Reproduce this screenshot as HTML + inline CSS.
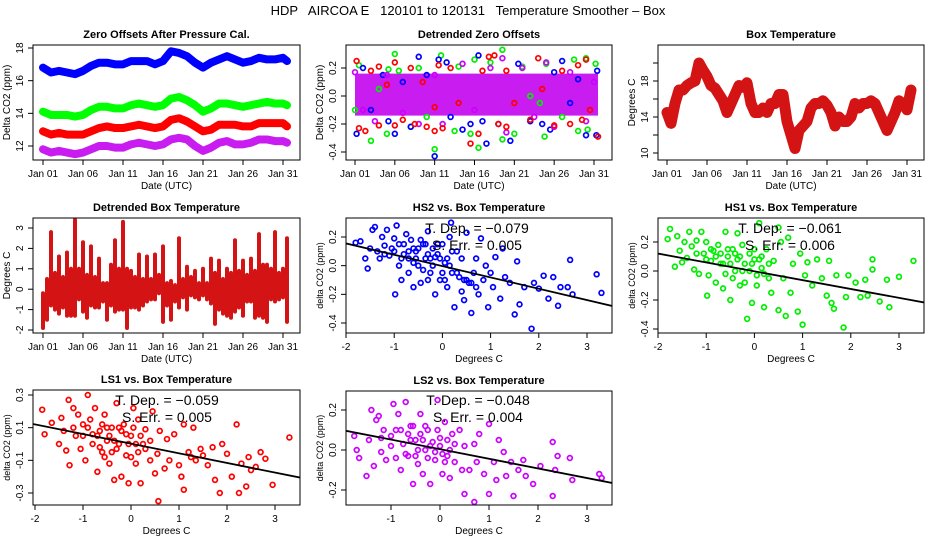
<!DOCTYPE html>
<html><head><meta charset="utf-8">
<style>
html,body{margin:0;padding:0;background:#fff;}
svg{display:block;font-family:"Liberation Sans",Arial,sans-serif;}
</style></head>
<body>
<svg id="chart" width="936" height="540" viewBox="0 0 936 540" xmlns="http://www.w3.org/2000/svg">
<text x="468" y="15" font-size="13" text-anchor="middle" xml:space="preserve">HDP   AIRCOA E   120101 to 120131   Temperature Smoother – Box</text>
</svg>
<script>
// ---- colours ----
const RED_CHK = "#d41414";
const PURPLE_CHK = "#c81cf0";

// ---- data ----
const days = [1,2,3,4,5,6,7,8,9,10,11,12,13,14,15,16,17,18,19,20,21,22,23,24,25,26,27,28,29,30,31,31.5];
const zeroBlue = [16.8,16.5,16.6,16.5,16.4,16.6,16.9,17.1,17.1,17.0,17.0,17.2,17.2,17.2,17.0,17.2,17.8,17.7,17.5,17.1,16.8,17.1,17.3,17.5,17.3,17.1,17.2,17.4,17.3,17.3,17.4,17.2];
const zeroGreen = [14.1,13.9,13.9,13.9,13.8,13.9,14.2,14.4,14.4,14.3,14.3,14.5,14.6,14.5,14.4,14.5,14.9,15.0,14.8,14.5,14.1,14.3,14.6,14.6,14.5,14.4,14.5,14.6,14.7,14.6,14.6,14.5];
const zeroRed = [12.9,12.7,12.8,12.7,12.7,12.7,12.9,13.1,13.2,13.1,13.1,13.2,13.3,13.2,13.1,13.2,13.6,13.7,13.5,13.2,12.9,13.0,13.3,13.3,13.3,13.2,13.2,13.4,13.4,13.4,13.4,13.2];
const zeroPurple = [11.8,11.6,11.7,11.6,11.5,11.6,11.8,12.0,12.0,11.9,11.9,12.1,12.2,12.1,12.0,12.1,12.4,12.5,12.4,12.0,11.7,11.9,12.2,12.3,12.1,12.1,12.2,12.4,12.4,12.3,12.3,12.2];

const detBlue = [[1.2,-0.27],[2,0.2],[3,-0.1],[4.5,0.15],[5.2,-0.18],[6,-0.27],[7,0.1],[8,-0.22],[9,0.28],[10,0.15],[11,-0.43],[11.5,0.26],[12.5,0.24],[13,-0.15],[14.5,-0.24],[15.5,-0.2],[16.5,0.29],[17,-0.18],[17.5,-0.34],[19,-0.2],[20.5,-0.32],[21.5,0.23],[23,-0.18],[24.5,-0.2],[25.5,-0.24],[26,0.17],[27,0.25],[28,-0.05],[29,0.12],[30,-0.28],[31.3,-0.28],[31.4,0.18]];
const detGreen = [[1,-0.1],[1.5,0.22],[3,-0.32],[4,0.05],[5,-0.27],[5.2,0.19],[6,0.3],[6.5,0.18],[8,-0.22],[9,0.2],[10,-0.15],[11,-0.38],[11.8,0.29],[13.5,-0.25],[14,0.21],[15.5,-0.27],[16,0.26],[16.5,-0.37],[18,0.24],[19.5,0.33],[19.5,-0.31],[21,-0.27],[22,0.21],[23,0.0],[24.2,-0.05],[24.8,-0.29],[25,0.23],[27,-0.15],[28.5,0.26],[29,-0.25],[30,0.27],[30.2,-0.24],[31.2,0.23]];
const detRed = [[1.2,0.25],[1.5,-0.23],[2.3,-0.25],[3,0.18],[4,-0.21],[4,0.21],[5,0.08],[6,0.24],[6,-0.21],[7,-0.17],[8,0.2],[8.5,-0.2],[9.5,0.1],[10,-0.22],[11,-0.25],[11,-0.08],[11.5,0.22],[12,-0.23],[13,0.2],[14,-0.05],[15.5,-0.34],[16.5,-0.27],[17,0.18],[17.8,0.28],[18.5,0.29],[19,-0.2],[20,0.18],[20,-0.22],[21,-0.05],[23,-0.17],[24,0.27],[24.5,0.05],[26,-0.21],[27,0.18],[28,-0.2],[29,0.22],[29.5,-0.17],[30,0.26],[30.5,-0.1],[31.5,-0.29]];
const detPurple = [[1,0.17],[2,-0.1],[3.5,-0.18],[5,0.15],[7,-0.12],[9,-0.2],[11,0.15],[12,-0.2],[14.5,0.23],[16,-0.1],[18,0.2],[19.5,0.27],[20,-0.26],[22,0.2],[23.5,-0.15],[25,0.24],[26,-0.22],[28,0.17],[30,-0.18],[31,0.1]];
const detBandLo = -0.14, detBandHi = 0.16;

const boxDays = [1,1.5,2,2.5,3,3.5,4,4.5,5,5.5,6,6.5,7,7.5,8,8.5,9,9.5,10,10.5,11,11.5,12,12.5,13,13.5,14,14.5,15,15.5,16,16.5,17,17.5,18,18.5,19,19.5,20,20.5,21,21.5,22,22.5,23,23.5,24,24.5,25,25.5,26,26.5,27,27.5,28,28.5,29,29.5,30,30.5,31,31.5];
const boxTemp = [14.5,13.3,15.5,17.0,17.0,17.5,17.8,18.0,20.0,19.2,18.5,17.5,17.2,16.5,15.8,14.5,15.5,16.5,17.5,17.3,17.8,15.5,14.5,14.5,15.0,14.5,15.5,15.5,16.5,16.5,13.5,12.0,10.5,12.5,13.0,13.5,15.0,15.5,15.5,15.8,15.3,14.5,13.0,14.0,13.5,13.5,14.0,15.5,15.0,15.5,15.5,15.8,15.5,14.5,13.5,12.5,13.5,14.5,15.8,15.5,14.8,17.0];

const detBoxLo = [-1.9,-1.5,-0.8,-1.0,-1.2,-0.9,-1.3,-1.3,-1.3,-0.5,-1.1,-1.4,-0.8,-0.9,-0.9,-0.6,-1.5,-0.8,-1.1,-1.0,-1.0,-1.9,-0.9,-0.9,-1.0,-0.8,-0.6,-0.5,-0.5,-0.2,-1.6,-0.8,-1.5,-0.6,-0.9,-0.4,-1.0,-0.3,-0.4,-0.5,-0.3,-0.5,-0.7,-1.7,-1.0,-1.2,-1.3,-1.4,-1.1,-0.9,-1.3,-0.6,-0.6,-1.4,-1.3,-1.4,-1.6,-0.5,-0.6,-0.5,-0.4,-1.6];
const detBoxHi = [-0.2,0.5,2.8,0.8,1.6,0.6,1.8,1.0,3.4,1.0,2.3,0.7,2.1,0.6,1.5,0.3,0.3,1.2,2.4,1.0,3.3,1.0,0.9,0.6,1.7,0.5,1.6,0.5,1.7,0.7,2.1,0.3,0.4,0.2,2.5,0.5,1.1,0.6,0.9,0.3,1.0,0.3,1.5,0.8,1.4,0.5,1.0,0.8,2.4,0.9,1.4,0.7,1.5,0.9,2.7,1.2,1.2,1.0,2.8,0.8,1.0,2.5];

const hs2Pts = [[-1.8,0.16],[-1.7,0.17],[-1.6,0.05],[-1.55,-0.02],[-1.5,0.12],[-1.45,0.25],[-1.4,0.27],[-1.35,0.1],[-1.3,0.05],[-1.25,0.2],[-1.2,0.14],[-1.15,0.25],[-1.1,0.07],[-1.05,0.12],[-1.0,0.19],[-0.98,-0.2],[-0.95,0.28],[-0.9,0.0],[-0.85,-0.1],[-0.8,0.15],[-0.75,0.22],[-0.7,0.05],[-0.65,0.18],[-0.6,-0.15],[-0.55,0.1],[-0.5,0.0],[-0.45,-0.12],[-0.4,0.15],[-0.35,0.05],[-0.3,0.24],[-0.25,-0.05],[-0.2,0.12],[-0.15,-0.2],[-0.1,0.08],[-0.05,-0.1],[0.0,0.15],[0.05,0.02],[0.1,-0.15],[0.15,0.2],[0.18,0.3],[0.2,-0.05],[0.25,-0.29],[0.3,0.1],[0.35,-0.08],[0.4,0.05],[0.45,-0.24],[0.5,0.23],[0.55,-0.12],[0.6,-0.33],[0.65,-0.05],[0.7,0.05],[0.75,-0.2],[0.8,0.19],[0.85,-0.1],[0.9,0.0],[0.95,-0.29],[1.0,-0.05],[1.05,-0.15],[1.1,0.06],[1.2,-0.23],[1.25,0.12],[1.3,-0.08],[1.4,-0.12],[1.5,-0.34],[1.55,0.03],[1.6,-0.27],[1.7,-0.15],[1.85,-0.44],[1.9,-0.12],[2.0,-0.16],[2.1,-0.07],[2.2,-0.23],[2.3,-0.08],[2.4,-0.28],[2.45,-0.15],[2.6,-0.15],[2.65,0.04],[2.7,-0.2],[3.2,-0.06],[3.3,-0.19],[-0.7,0.1],[-0.6,0.02],[-0.5,0.12],[-0.4,-0.03],[-0.3,0.08],[-0.2,0.0],[-0.1,0.15],[0.0,-0.05],[-0.6,0.12],[-0.3,-0.1],[-0.8,0.08],[0.1,0.05],[-0.45,0.18],[-0.15,0.06],[0.2,0.1],[0.6,-0.12],[0.5,-0.1],[0.7,-0.15],[0.4,-0.18],[-1.0,0.1],[-0.9,0.15],[-0.7,-0.05],[-0.55,0.05],[-0.35,0.15],[-0.25,0.05],[-0.05,0.05],[0.05,-0.1],[0.15,0.0],[0.3,-0.05],[0.45,-0.1],[-1.2,0.08],[-0.85,0.05]];
const hs1Pts = [[-1.8,0.22],[-1.75,0.29],[-1.65,0.03],[-1.6,0.24],[-1.55,0.14],[-1.5,0.06],[-1.45,0.2],[-1.4,0.09],[-1.35,0.27],[-1.3,0.17],[-1.25,0.01],[-1.2,0.21],[-1.15,-0.02],[-1.1,0.27],[-1.05,0.12],[-1.0,0.2],[-0.98,-0.17],[-0.95,-0.03],[-0.9,0.07],[-0.85,0.14],[-0.8,-0.08],[-0.75,0.18],[-0.7,0.05],[-0.65,-0.12],[-0.6,0.27],[-0.55,0.1],[-0.5,-0.2],[-0.45,0.15],[-0.4,0.0],[-0.35,0.26],[-0.3,-0.1],[-0.25,0.18],[-0.2,0.05],[-0.15,-0.33],[-0.1,0.12],[-0.05,-0.22],[0.0,0.08],[0.05,-0.1],[0.1,0.33],[0.15,0.02],[0.2,-0.25],[0.25,0.15],[0.3,-0.05],[0.35,-0.15],[0.4,0.07],[0.5,0.3],[0.5,-0.27],[0.55,0.2],[0.6,-0.05],[0.65,-0.31],[0.7,0.23],[0.75,-0.15],[0.8,0.05],[0.9,-0.28],[0.95,0.12],[1.0,-0.37],[1.05,-0.03],[1.1,0.06],[1.2,-0.1],[1.3,0.08],[1.4,-0.05],[1.5,-0.17],[1.55,0.07],[1.6,-0.22],[1.65,-0.26],[1.7,-0.03],[1.85,-0.39],[1.9,-0.18],[1.95,-0.03],[2.1,-0.08],[2.2,-0.18],[2.3,-0.06],[2.35,-0.17],[2.45,0.01],[2.45,0.08],[2.6,-0.21],[2.75,-0.06],[2.8,-0.25],[3.0,-0.04],[3.3,0.07],[-0.7,0.12],[-0.5,0.05],[-0.3,0.1],[-0.1,0.0],[0.1,0.08],[-0.6,-0.02],[-0.4,0.12],[-0.2,-0.08],[0.0,0.15],[0.2,-0.02],[-0.8,0.1],[0.3,0.05],[-1.0,0.08],[-0.9,0.15],[-0.65,0.05],[-0.45,-0.05],[-0.25,0.0],[-0.05,0.05],[0.15,0.1],[-0.35,0.08],[-0.55,0.15],[0.05,-0.03],[-1.2,0.12]];
const ls1Pts = [[-1.85,0.21],[-1.8,0.06],[-1.65,0.13],[-1.5,0.0],[-1.45,0.16],[-1.4,0.08],[-1.35,-0.04],[-1.3,0.27],[-1.28,-0.13],[-1.2,0.22],[-1.15,0.05],[-1.1,0.18],[-1.05,-0.03],[-1.0,0.12],[-0.95,-0.1],[-0.9,0.3],[-0.85,0.15],[-0.8,0.0],[-0.75,0.22],[-0.7,-0.17],[-0.65,0.08],[-0.6,-0.05],[-0.55,0.18],[-0.5,0.02],[-0.45,-0.12],[-0.4,0.1],[-0.35,-0.22],[-0.3,0.25],[-0.25,0.0],[-0.2,-0.2],[-0.15,0.12],[-0.1,-0.07],[-0.05,-0.24],[0.0,0.05],[0.05,0.22],[0.1,-0.12],[0.15,0.15],[0.2,-0.24],[0.25,0.0],[0.3,0.09],[0.4,-0.1],[0.45,0.2],[0.5,-0.18],[0.55,-0.06],[0.57,-0.35],[0.6,0.08],[0.7,-0.15],[0.75,0.03],[0.8,-0.1],[0.9,0.06],[1.0,-0.13],[1.05,-0.2],[1.1,0.12],[1.1,-0.28],[1.2,-0.05],[1.25,-0.08],[1.3,0.1],[1.35,-0.1],[1.45,-0.03],[1.5,-0.07],[1.6,-0.13],[1.7,-0.02],[1.75,-0.22],[1.85,-0.3],[1.9,0.0],[2.0,-0.06],[2.1,-0.2],[2.2,0.12],[2.25,-0.3],[2.3,-0.12],[2.4,-0.26],[2.45,-0.08],[2.5,-0.16],[2.6,-0.14],[2.7,-0.05],[2.8,-0.09],[2.95,-0.25],[3.3,0.04],[-0.7,0.05],[-0.5,0.1],[-0.3,-0.03],[-0.1,0.06],[0.1,0.0],[-0.6,0.12],[-0.4,-0.05],[-0.2,0.08],[0.0,-0.08],[0.2,0.05],[-0.8,0.06],[0.3,-0.03],[0.4,0.02],[-1.0,0.05],[-0.9,0.1],[-0.65,-0.02],[-0.45,0.05],[-0.25,0.1],[-0.05,0.0],[0.15,-0.05],[-0.35,0.02],[-0.55,-0.08],[0.05,0.1],[-1.2,0.1]];
const ls2Pts = [[-1.75,0.07],[-1.7,0.0],[-1.65,-0.04],[-1.5,-0.13],[-1.45,0.05],[-1.4,0.2],[-1.35,-0.08],[-1.3,0.15],[-1.25,0.17],[-1.2,-0.01],[-1.15,0.1],[-1.1,-0.05],[-1.0,0.07],[-0.95,0.23],[-0.9,-0.04],[-0.85,0.18],[-0.8,-0.1],[-0.75,0.03],[-0.7,0.24],[-0.65,-0.03],[-0.6,0.12],[-0.55,-0.17],[-0.5,0.05],[-0.45,-0.07],[-0.4,0.18],[-0.35,-0.12],[-0.3,0.0],[-0.25,0.1],[-0.2,-0.17],[-0.15,0.04],[-0.1,-0.05],[-0.05,0.25],[0.0,0.02],[0.05,-0.12],[0.1,0.14],[0.15,-0.03],[0.2,-0.14],[0.25,0.08],[0.3,-0.06],[0.4,0.1],[0.45,-0.1],[0.5,0.02],[0.5,-0.22],[0.6,-0.1],[0.7,0.03],[0.7,-0.26],[0.75,-0.06],[0.8,0.08],[0.9,-0.12],[1.0,0.13],[1.0,-0.22],[1.1,-0.06],[1.15,-0.15],[1.2,0.05],[1.3,-0.01],[1.35,-0.13],[1.45,-0.06],[1.5,-0.23],[1.6,-0.1],[1.7,-0.05],[1.75,-0.13],[1.9,-0.17],[2.05,-0.08],[2.3,0.04],[2.3,-0.23],[2.35,-0.1],[2.4,-0.03],[2.65,-0.04],[2.7,-0.15],[3.25,-0.12],[3.3,-0.14],[-0.6,0.05],[-0.4,0.08],[-0.2,0.02],[0.0,0.06],[-0.5,-0.03],[-0.3,0.12],[-0.1,-0.01],[0.2,0.0],[-0.8,0.1],[0.3,0.03],[-0.7,-0.02],[0.1,-0.06],[-1.0,0.02],[-0.9,0.1],[-0.65,0.08],[-0.45,0.0],[-0.25,-0.04],[-0.05,0.1],[0.15,0.05],[-0.35,0.05],[-0.55,0.12],[0.05,-0.02],[-1.2,0.06]];

const slopes = [-0.079,-0.061,-0.059,-0.048];
const intercepts = [-0.003,-0.002,0.002,0.004];
const stdErrs = ["0.005","0.006","0.005","0.004"];

const dateTicks = [1,6,11,16,21,26,31];
const dateTickLabels = ["Jan 01","Jan 06","Jan 11","Jan 16","Jan 21","Jan 26","Jan 31"];

// ---- drawing ----
const NS = "http://www.w3.org/2000/svg";
const svg = document.getElementById("chart");
function mk(tag, parent){ const e=document.createElementNS(NS,tag); parent.appendChild(e); return e; }
function lin(d0,d1,r0,r1){ return v => r0 + (v-d0)*(r1-r0)/(d1-d0); }

function panel(cfg){
  const g = mk("g", svg);
  
  
  const sx = lin(cfg.xd[0],cfg.xd[1],cfg.xr[0],cfg.xr[1]);
  const sy = lin(cfg.yd[0],cfg.yd[1],cfg.yr[0],cfg.yr[1]);
  const [bx0,bx1,by0,by1] = cfg.box;
  const clipId = cfg.name+"-clip";
  const cp = mk("clipPath", g); cp.setAttribute("id", clipId);
  const cr = mk("rect", cp); cr.setAttribute("x",bx0); cr.setAttribute("y",by0); cr.setAttribute("width",bx1-bx0); cr.setAttribute("height",by1-by0);
  const plot = mk("g", g);
  
  
  plot.setAttribute("clip-path","url(#"+clipId+")");
  const fr = mk("rect", g);
  
  
  fr.setAttribute("x",bx0); fr.setAttribute("y",by0); fr.setAttribute("width",bx1-bx0); fr.setAttribute("height",by1-by0);
  fr.setAttribute("fill","none"); fr.setAttribute("stroke","#000"); fr.setAttribute("stroke-width","1");
  const t = mk("text", g);
  
  
  t.setAttribute("x",(bx0+bx1)/2); t.setAttribute("y",by0-7); t.setAttribute("text-anchor","middle");
  t.setAttribute("font-size","11"); t.setAttribute("font-weight","bold"); t.textContent = cfg.title;
  const xax = mk("g", g);
  
  
  cfg.xticks.forEach((v,i)=>{
    const x = sx(v);
    const l = mk("line", xax);
    
    
    l.setAttribute("x1",x); l.setAttribute("x2",x); l.setAttribute("y1",by1); l.setAttribute("y2",by1+5); l.setAttribute("stroke","#000");
    const tl = mk("text", xax);
    
    
    tl.setAttribute("x",x); tl.setAttribute("y",by1+17); tl.setAttribute("text-anchor","middle"); tl.setAttribute("font-size","10");
    tl.textContent = cfg.xlabels[i];
  });
  const xl = mk("line", xax);
  
  
  xl.setAttribute("x1",sx(cfg.xticks[0])); xl.setAttribute("x2",sx(cfg.xticks[cfg.xticks.length-1])); xl.setAttribute("y1",by1); xl.setAttribute("y2",by1); xl.setAttribute("stroke","#000");
  const xt = mk("text", g);
  
  
  xt.setAttribute("x",(bx0+bx1)/2); xt.setAttribute("y",by1+29); xt.setAttribute("text-anchor","middle"); xt.setAttribute("font-size","10");
  xt.textContent = cfg.xtitle;
  const yax = mk("g", g);
  
  
  cfg.yticks.forEach((v)=>{
    const y = sy(v);
    const l = mk("line", yax);
    
    
    l.setAttribute("x1",bx0-5); l.setAttribute("x2",bx0); l.setAttribute("y1",y); l.setAttribute("y2",y); l.setAttribute("stroke","#000");
  });
  cfg.ylabelVals.forEach((v,i)=>{
    const y = sy(v);
    const tl = mk("text", yax);
    
    
    tl.setAttribute("transform","translate("+(bx0-10)+","+y+") rotate(-90)");
    tl.setAttribute("text-anchor","middle"); tl.setAttribute("font-size","10");
    tl.textContent = cfg.ylabels[i];
  });
  const yl = mk("line", yax);
  
  
  yl.setAttribute("x1",bx0); yl.setAttribute("x2",bx0); yl.setAttribute("y1",sy(cfg.yticks[0])); yl.setAttribute("y2",sy(cfg.yticks[cfg.yticks.length-1])); yl.setAttribute("stroke","#000");
  const yt = mk("text", g);
  
  
  yt.setAttribute("transform","translate("+(bx0-23)+","+((by0+by1)/2)+") rotate(-90)");
  yt.setAttribute("text-anchor","middle"); yt.setAttribute("font-size", cfg.ytitleSize||"10");
  yt.textContent = cfg.ytitle;
  return {g, plot, sx, sy};
}

function band(p, xs, ys, color, w, name){
  const pl = mk("polyline", p.plot);
  
  
  pl.setAttribute("points", xs.map((x,i)=>p.sx(x)+","+p.sy(ys[i])).join(" "));
  pl.setAttribute("fill","none"); pl.setAttribute("stroke",color); pl.setAttribute("stroke-width",w);
  pl.setAttribute("stroke-linejoin","round"); pl.setAttribute("stroke-linecap","round");
}
function pts(p, arr, color, name){
  arr.forEach(d=>{
    const c = mk("circle", p.plot);
    
    
    c.setAttribute("cx",p.sx(d[0])); c.setAttribute("cy",p.sy(d[1])); c.setAttribute("r","2.4");
    c.setAttribute("fill","none"); c.setAttribute("stroke",color); c.setAttribute("stroke-width","1.7");
  });
}
function fitLine(p, k, x0, x1, name){
  const l = mk("line", p.plot);
  
  
  l.setAttribute("x1",p.sx(x0)); l.setAttribute("y1",p.sy(intercepts[k]+slopes[k]*x0));
  l.setAttribute("x2",p.sx(x1)); l.setAttribute("y2",p.sy(intercepts[k]+slopes[k]*x1));
  l.setAttribute("stroke","#000"); l.setAttribute("stroke-width","1.8");
}
function annot(p, k, cx, y){
  const a = mk("text", p.g);
  
  
  a.setAttribute("x",cx); a.setAttribute("y",y); a.setAttribute("text-anchor","middle"); a.setAttribute("font-size","14");
  a.setAttribute("xml:space","preserve");
  a.textContent = "T. Dep. =  " + (slopes[k]<0?"\u2212":"") + Math.abs(slopes[k]).toFixed(3);
  const b = mk("text", p.g);
  
  
  b.setAttribute("x",cx); b.setAttribute("y",y+17); b.setAttribute("text-anchor","middle"); b.setAttribute("font-size","14");
  b.setAttribute("xml:space","preserve");
  b.textContent = "S. Err. =  " + stdErrs[k];
}

const p1 = panel({name:"zero-offsets-panel", title:"Zero Offsets After Pressure Cal.", box:[33,300,45,160],
  xd:[1,31], xr:[43,283], yd:[18,12], yr:[48,146], xticks:dateTicks, xlabels:dateTickLabels, xtitle:"Date (UTC)",
  yticks:[12,14,16,18], ylabelVals:[12,14,16,18], ylabels:["12","14","16","18"], ytitle:"Delta CO2 (ppm)"});
band(p1, days, zeroBlue, "#0000ff", 8, "series-hs2");
band(p1, days, zeroGreen, "#00ff00", 8, "series-hs1");
band(p1, days, zeroRed, "#ff0000", 8, "series-ls1");
band(p1, days, zeroPurple, PURPLE_CHK, 8, "series-ls2");

const p2 = panel({name:"detrended-zero-offsets-panel", title:"Detrended Zero Offsets", box:[346,612,45,160],
  xd:[1,31], xr:[355,594], yd:[0.2,-0.4], yr:[68,152], xticks:dateTicks, xlabels:dateTickLabels, xtitle:"Date (UTC)",
  yticks:[-0.4,-0.2,0,0.2], ylabelVals:[-0.4,-0.2,0,0.2], ylabels:["-0.4","-0.2","0.0","0.2"], ytitle:"Delta CO2 (ppm)"});
const br = mk("rect", p2.plot);


br.setAttribute("x",p2.sx(1)); br.setAttribute("width",p2.sx(31.5)-p2.sx(1));
br.setAttribute("y",p2.sy(detBandHi)); br.setAttribute("height",p2.sy(detBandLo)-p2.sy(detBandHi));
br.setAttribute("fill",PURPLE_CHK);
pts(p2, detGreen, "#00ee00", "point-hs1");
pts(p2, detBlue, "#0000ff", "point-hs2");
pts(p2, detPurple, "#cc00ff", "point-ls2");
pts(p2, detRed, "#ff0000", "point-ls1");

const p3 = panel({name:"box-temperature-panel", title:"Box Temperature", box:[658,924,45,160],
  xd:[1,31], xr:[667,907], yd:[18,10], yr:[81,153], xticks:dateTicks, xlabels:dateTickLabels, xtitle:"Date (UTC)",
  yticks:[10,12,14,16,18,20], ylabelVals:[10,14,18], ylabels:["10","14","18"], ytitle:"Degrees C"});
band(p3, boxDays, boxTemp, RED_CHK, 11, "series-box-temperature");

const p4 = panel({name:"detrended-box-temperature-panel", title:"Detrended Box Temperature", box:[33,300,218,333],
  xd:[1,31], xr:[43,283], yd:[3,-2], yr:[228,330], xticks:dateTicks, xlabels:dateTickLabels, xtitle:"Date (UTC)",
  yticks:[-2,-1,0,1,2,3], ylabelVals:[-2,-1,0,1,2,3], ylabels:["-2","-1","0","1","2","3"], ytitle:"Degrees C"});
boxDays.forEach((d,i)=>{
  const l = mk("line", p4.plot);
  
  
  l.setAttribute("x1",p4.sx(d)); l.setAttribute("x2",p4.sx(d));
  l.setAttribute("y1",p4.sy(detBoxLo[i])); l.setAttribute("y2",p4.sy(detBoxHi[i]));
  l.setAttribute("stroke",RED_CHK); l.setAttribute("stroke-width","4"); l.setAttribute("stroke-linecap","round");
});

const xT = [-2,-1,0,1,2,3], xTL = ["-2","-1","0","1","2","3"];
const p5 = panel({name:"hs2-vs-box-panel", title:"HS2 vs. Box Temperature", box:[346,612,218,333],
  xd:[-2,3], xr:[346,587], yd:[0.2,-0.4], yr:[237,323], xticks:xT, xlabels:xTL, xtitle:"Degrees C",
  yticks:[-0.4,-0.2,0,0.2], ylabelVals:[-0.4,-0.2,0,0.2], ylabels:["-0.4","-0.2","0.0","0.2"], ytitle:"delta CO2 (ppm)", ytitleSize:"9"});
pts(p5, hs2Pts, "#0000ff", "point-hs2");
fitLine(p5, 0, -2.2, 3.6, "regression-line");
annot(p5, 0, 477, 233);

const p6 = panel({name:"hs1-vs-box-panel", title:"HS1 vs. Box Temperature", box:[658,924,218,333],
  xd:[-2,3], xr:[658,899], yd:[0.2,-0.4], yr:[242,329], xticks:xT, xlabels:xTL, xtitle:"Degrees C",
  yticks:[-0.4,-0.2,0,0.2], ylabelVals:[-0.4,-0.2,0,0.2], ylabels:["-0.4","-0.2","0.0","0.2"], ytitle:"delta CO2 (ppm)", ytitleSize:"9"});
pts(p6, hs1Pts, "#00ee00", "point-hs1");
fitLine(p6, 1, -2.2, 3.6, "regression-line");
annot(p6, 1, 790, 233);

const p7 = panel({name:"ls1-vs-box-panel", title:"LS1 vs. Box Temperature", box:[33,300,390,505],
  xd:[-2,3], xr:[35,275], yd:[0.3,-0.3], yr:[395,493], xticks:xT, xlabels:xTL, xtitle:"Degrees C",
  yticks:[-0.3,-0.1,0.1,0.3], ylabelVals:[-0.3,-0.1,0.1,0.3], ylabels:["-0.3","-0.1","0.1","0.3"], ytitle:"delta CO2 (ppm)", ytitleSize:"9"});
pts(p7, ls1Pts, "#ff0000", "point-ls1");
fitLine(p7, 2, -2.2, 3.6, "regression-line");
annot(p7, 2, 167, 405);

const p8 = panel({name:"ls2-vs-box-panel", title:"LS2 vs. Box Temperature", box:[346,612,391,505],
  xd:[-1,3], xr:[391,587], yd:[0.2,-0.2], yr:[410,490], xticks:[-1,0,1,2,3], xlabels:["-1","0","1","2","3"], xtitle:"Degrees C",
  yticks:[-0.2,0,0.2], ylabelVals:[-0.2,0,0.2], ylabels:["-0.2","0.0","0.2"], ytitle:"delta CO2 (ppm)", ytitleSize:"9"});
pts(p8, ls2Pts, "#cc00ff", "point-ls2");
fitLine(p8, 3, -2.2, 3.6, "regression-line");
annot(p8, 3, 478, 405);
</script>
</body></html>
